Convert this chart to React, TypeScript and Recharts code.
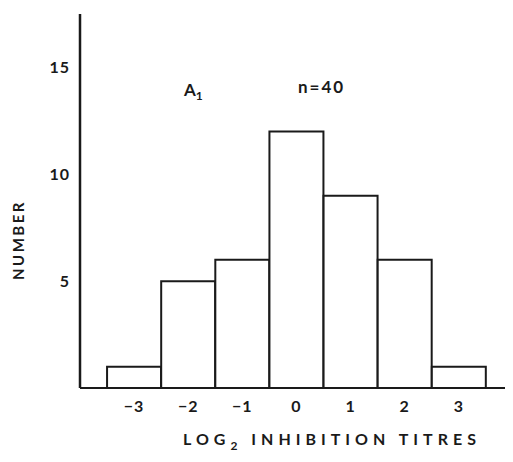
import { BarChart, Bar, XAxis, YAxis } from 'recharts'

// log2 inhibition titre classes and counts (n = 40)
const titres = [-3, -2, -1, 0, 1, 2, 3]
const counts = [1, 5, 6, 12, 9, 6, 1]
const yTicks = [5, 10, 15]

const data = titres.map((t, i) => ({ titre: t, count: counts[i] }))

const font = 'Lato, "DejaVu Sans", sans-serif'
const ink = '#1a1a1a'

const fmtX = (v: number) => (v < 0 ? `\u2212${Math.abs(v)}` : `${v}`)

export default function App() {
  return (
    <div style={{ width: 505, height: 454, background: '#fff' }}>
      <BarChart
        width={505}
        height={454}
        data={data}
        margin={{ top: 6, right: 0, bottom: 44, left: 0 }}
        barCategoryGap={0}
        barGap={0}
      >
        <XAxis
          dataKey="titre"
          type="number"
          domain={[-4, 4]}
          ticks={titres}
          tickFormatter={fmtX}
          tickSize={0}
          tickMargin={13}
          height={30}
          axisLine={{ stroke: ink, strokeWidth: 2 }}
          tick={{ fill: ink, fontSize: 16, fontFamily: font, fontWeight: 700, letterSpacing: 1 }}
          allowDataOverflow
        />
        <YAxis
          type="number"
          domain={[0, 17.5]}
          ticks={yTicks}
          tickSize={0}
          tickMargin={10}
          width={72}
          axisLine={{ stroke: ink, strokeWidth: 2.5 }}
          tick={{ fill: ink, fontSize: 16, fontFamily: font, fontWeight: 700, letterSpacing: 1 }}
          allowDataOverflow
        />
        <Bar
          dataKey="count"
          fill="#fff"
          stroke={ink}
          strokeWidth={2}
          barSize={54}
          isAnimationActive={false}
        />
        <text
          x={12}
          y={232}
          transform="rotate(-90 12 232)"
          textAnchor="middle"
          dominantBaseline="middle"
          fontFamily={font}
          fontWeight={700}
          fontSize={15}
          letterSpacing={2.5}
          fill={ink}
        >
          NUMBER
        </text>
        <text
          x={175}
          y={437}
          fontFamily={font}
          fontWeight={700}
          fontSize={16}
          letterSpacing={5}
          fill={ink}
        >
          LOG<tspan dy={5} fontSize={12}>2</tspan>
          <tspan dy={-5}> INHIBITION TITRES</tspan>
        </text>
        <text x={176} y={88} fontFamily={font} fontWeight={700} fontSize={17} fill={ink}>
          A<tspan dy={4} fontSize={12}>1</tspan>
        </text>
        <text x={290} y={85} fontFamily={font} fontWeight={700} fontSize={17} letterSpacing={2} fill={ink}>
          n=40
        </text>
      </BarChart>
    </div>
  )
}
